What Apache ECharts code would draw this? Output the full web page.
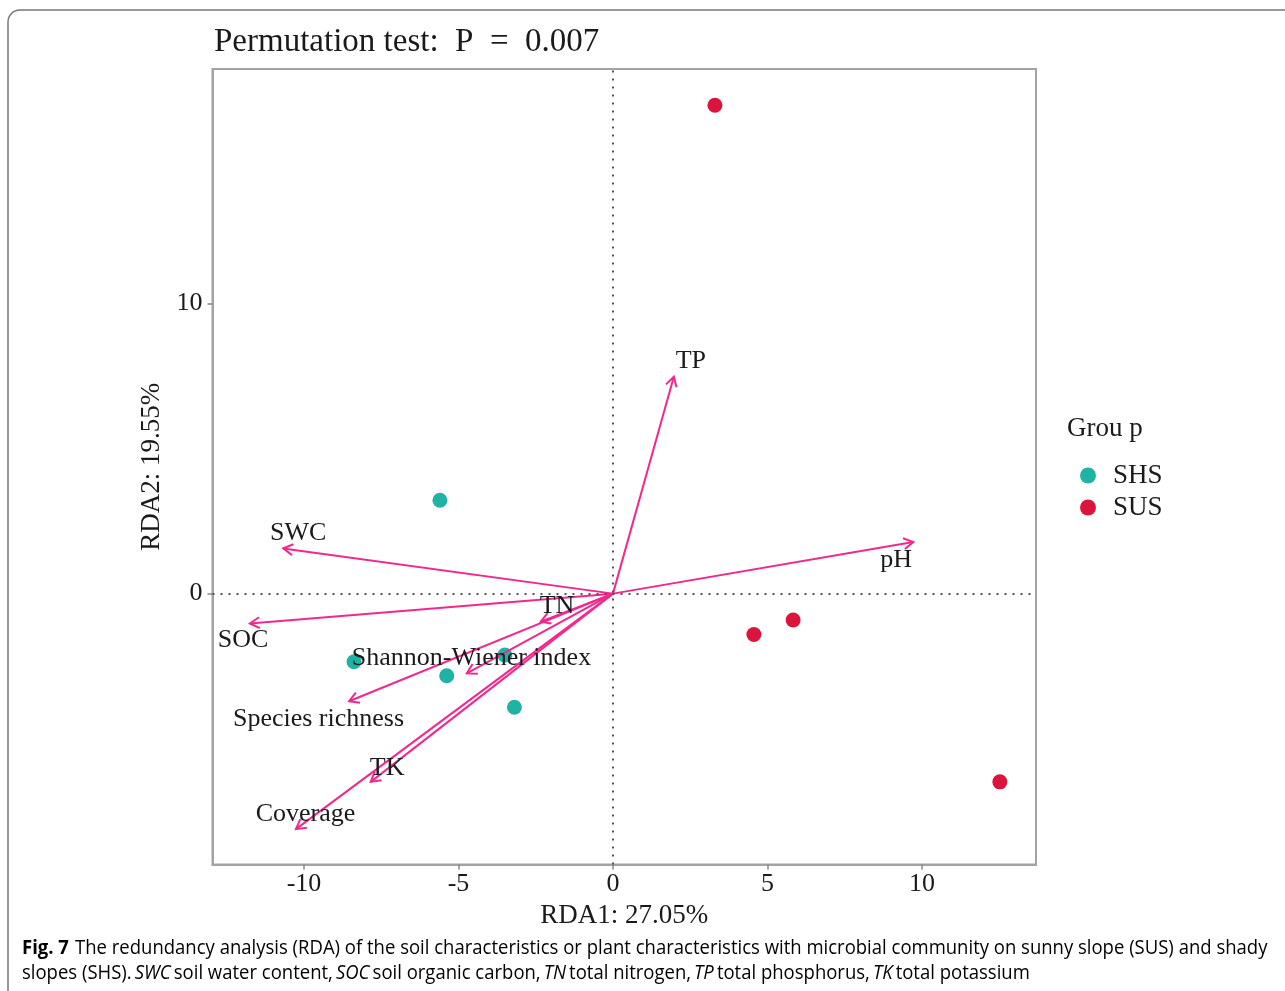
<!DOCTYPE html>
<html>
<head>
<meta charset="utf-8">
<script src="https://cdn.jsdelivr.net/npm/echarts@6/dist/echarts.min.js"></script>
<style>
  html, body { margin: 0; padding: 0; background: #fff; }
  #chart { width: 1285px; height: 991px; }
</style>
</head>
<body>
<div id="chart"></div>
<script>
// Sample scores on the first two RDA axes
const shsX = [-5.60, -8.38, -5.38, -3.50, -3.19];
const shsY = [3.22, -2.35, -2.83, -2.12, -3.92];
const susX = [3.30, 4.56, 5.83, 12.52];
const susY = [16.84, -1.41, -0.91, -6.49];

// Environmental / plant variable vectors (arrow tips) and their text anchors
const envNames = ['TP', 'pH', 'SWC', 'SOC', 'TN', 'Shannon-Wiener index', 'Species richness', 'TK', 'Coverage'];
const envX = [1.97, 9.72, -10.67, -11.75, -2.34, -4.73, -8.54, -7.84, -10.26];
const envY = [7.48, 1.78, 1.56, -1.03, -0.97, -2.75, -3.71, -6.49, -8.12];
const envLabelX = [2.52, 9.16, -10.19, -11.97, -1.81, -4.58, -9.53, -7.31, -9.95];
const envLabelY = [8.02, 1.16, 2.09, -1.60, -0.43, -2.22, -4.33, -6.02, -7.60];

const xTicks = [-10, -5, 0, 5, 10];
const yTicks = [0, 10];

const SERIF = '"Liberation Serif", "Times New Roman", serif';
const CAPTION = '"Open Sans", "Noto Sans", sans-serif';
const ARROW = '#f2288c';

const chart = echarts.init(document.getElementById('chart'), null, { renderer: 'canvas' });

const zip = (xs, ys) => xs.map((v, i) => [v, ys[i]]);
const vectors = envNames.map((n, i) => [envX[i], envY[i], envLabelX[i], envLabelY[i], n]);

const option = {
  backgroundColor: '#fff',
  animation: false,
  title: {
    text: 'Permutation test:  P  =  0.007',
    left: 209,
    top: 21,
    textStyle: { fontFamily: SERIF, fontSize: 33, fontWeight: 'normal', color: '#1a1a1a' }
  },
  grid: {
    left: 212.5, right: 249, top: 69, bottom: 126.5,
    show: true, borderColor: '#a3a3a3', borderWidth: 2, backgroundColor: '#fff'
  },
  legend: {
    orient: 'vertical',
    left: 1075,
    top: 457,
    itemWidth: 16,
    itemHeight: 16,
    itemGap: 5,
    icon: 'circle',
    textStyle: { fontFamily: SERIF, fontSize: 27, color: '#1a1a1a', padding: [0, 0, 0, 12] },
    data: ['SHS', 'SUS']
  },
  xAxis: {
    type: 'value',
    min: -12.96,
    max: 13.69,
    name: 'RDA1: 27.05%',
    nameLocation: 'middle',
    nameGap: 37,
    nameTextStyle: { fontFamily: SERIF, fontSize: 27, color: '#1a1a1a' },
    splitLine: { show: false },
    axisLine: { show: true, onZero: false, lineStyle: { color: '#a3a3a3', width: 2 } },
    axisTick: { show: true, length: 5, customValues: xTicks, lineStyle: { color: '#888', width: 1.5 } },
    axisLabel: { customValues: xTicks, margin: 7, fontFamily: SERIF, fontSize: 26, color: '#1a1a1a' }
  },
  yAxis: {
    type: 'value',
    min: -9.34,
    max: 18.09,
    name: 'RDA2: 19.55%',
    nameLocation: 'middle',
    nameRotate: 90,
    nameGap: 47,
    nameTextStyle: { fontFamily: SERIF, fontSize: 27, color: '#1a1a1a' },
    splitLine: { show: false },
    axisLine: { show: true, onZero: false, lineStyle: { color: '#a3a3a3', width: 2 } },
    axisTick: { show: true, length: 5, customValues: yTicks, lineStyle: { color: '#888', width: 1.5 } },
    axisLabel: { customValues: yTicks, margin: 10, fontFamily: SERIF, fontSize: 26, color: '#1a1a1a' }
  },
  series: [
    {
      // zero reference lines
      type: 'line',
      data: [],
      silent: true,
      markLine: {
        symbol: 'none',
        silent: true,
        label: { show: false },
        lineStyle: { color: '#555', type: [2, 6], width: 2 },
        data: [{ xAxis: 0 }, { yAxis: 0 }]
      }
    },
    {
      name: 'SHS',
      type: 'scatter',
      symbolSize: 15,
      itemStyle: { color: '#1fb3a6', opacity: 1 },
      data: zip(shsX, shsY),
      z: 3
    },
    {
      name: 'SUS',
      type: 'scatter',
      symbolSize: 15,
      itemStyle: { color: '#dc143c', opacity: 1 },
      data: zip(susX, susY),
      z: 3
    },
    {
      // vectors with open arrow heads
      type: 'custom',
      z: 4,
      silent: true,
      data: vectors,
      renderItem: function (params, api) {
        const o = api.coord([0, 0]);
        const p = api.coord([api.value(0), api.value(1)]);
        const ang = Math.atan2(p[1] - o[1], p[0] - o[0]);
        const L = 11, spread = Math.PI / 6;
        const h1 = [p[0] - L * Math.cos(ang - spread), p[1] - L * Math.sin(ang - spread)];
        const h2 = [p[0] - L * Math.cos(ang + spread), p[1] - L * Math.sin(ang + spread)];
        const style = { stroke: ARROW, lineWidth: 2, fill: null };
        return {
          type: 'group',
          children: [
            { type: 'line', shape: { x1: o[0], y1: o[1], x2: p[0], y2: p[1] }, style: style },
            { type: 'polyline', shape: { points: [h1, p, h2] }, style: style }
          ]
        };
      }
    },
    {
      // variable names
      type: 'custom',
      z: 5,
      silent: true,
      data: vectors,
      renderItem: function (params, api) {
        const c = api.coord([api.value(2), api.value(3)]);
        return {
          type: 'text',
          x: c[0], y: c[1],
          style: {
            text: envNames[params.dataIndex],
            align: 'center',
            verticalAlign: 'middle',
            font: '26px ' + SERIF,
            fill: '#1a1a1a'
          }
        };
      }
    }
  ],
  graphic: [
    {
      type: 'rect',
      silent: true,
      shape: { x: 8, y: 10, width: 1320, height: 1020, r: 12 },
      style: { fill: null, stroke: '#777', lineWidth: 1.5 }
    },
    {
      type: 'text',
      left: 1067,
      top: 415,
      style: { text: 'Grou p', font: '27px ' + SERIF, fill: '#1a1a1a' }
    },
    {
      type: 'text',
      x: 22,
      y: 938,
      scaleX: 0.925,
      style: {
        text: '{b|Fig. 7}  {n|The redundancy analysis (RDA) of the soil characteristics or plant characteristics with microbial community on sunny slope (SUS) and shady}',
        rich: {
          b: { fontFamily: CAPTION, fontSize: 20, fontWeight: 'bold', color: '#1a1a1a' },
          n: { fontFamily: CAPTION, fontSize: 20, color: '#1a1a1a' }
        }
      }
    },
    {
      type: 'text',
      x: 22,
      y: 963,
      scaleX: 0.925,
      style: {
        text: '{n|slopes (SHS).} {i|SWC} {n|soil water content,} {i|SOC} {n|soil organic carbon,} {i|TN} {n|total nitrogen,} {i|TP} {n|total phosphorus,} {i|TK} {n|total potassium}',
        rich: {
          n: { fontFamily: CAPTION, fontSize: 20, color: '#1a1a1a' },
          i: { fontFamily: CAPTION, fontSize: 20, fontStyle: 'italic', color: '#1a1a1a' }
        }
      }
    }
  ]
};

chart.setOption(option);
</script>
</body>
</html>
